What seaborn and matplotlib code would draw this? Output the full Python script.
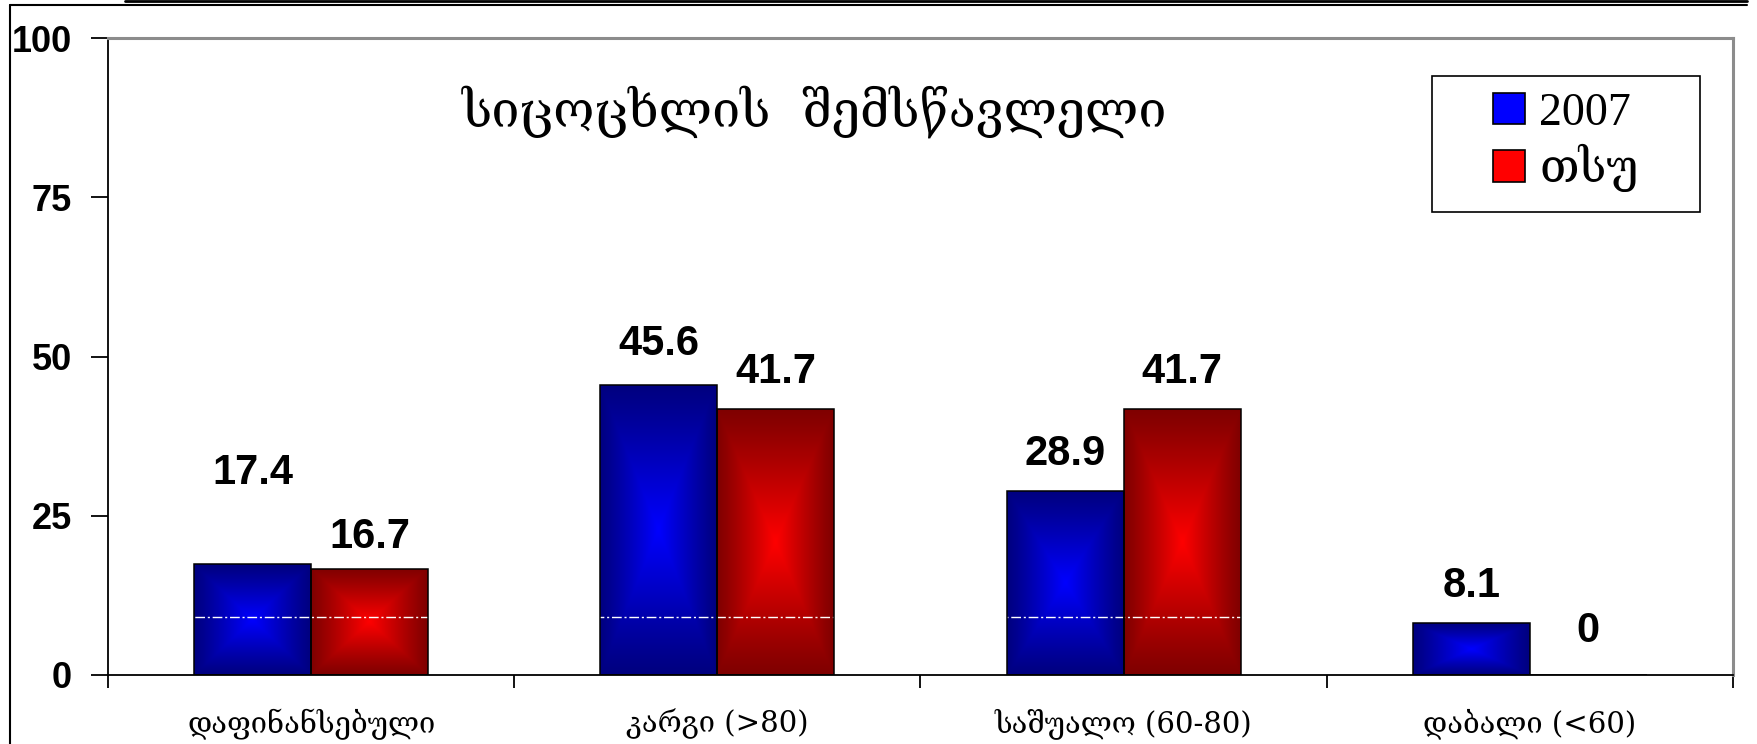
import numpy as np
import pandas as pd
import matplotlib
matplotlib.use("Agg")
import matplotlib.pyplot as plt
import seaborn as sns
from matplotlib.patches import Patch, Rectangle
from matplotlib.lines import Line2D

# data
categories = ["დაფინანსებული", "კარგი (>80)", "საშუალო (60-80)", "დაბალი (<60)"]
series_names = ["2007", "თსუ"]
values_2007 = [17.4, 45.6, 28.9, 8.1]
values_tsu = [16.7, 41.7, 41.7, 0]
title_text = "სიცოცხლის  შემსწავლელი"
y_ticks = [0, 25, 50, 75, 100]

df = pd.DataFrame({
    "cat": categories * 2,
    "series": [series_names[0]] * 4 + [series_names[1]] * 4,
    "val": values_2007 + values_tsu,
})

sns.set_theme(style="white")
plt.rcParams["font.family"] = ["Liberation Sans", "DejaVu Sans"]
plt.rcParams["text.color"] = "black"
plt.rcParams["xtick.color"] = "black"
plt.rcParams["ytick.color"] = "black"

base_colors = {"2007": (0.0, 0.0, 1.0), "თსუ": (1.0, 0.0, 0.0)}
geo_font = ["DejaVu Serif", "DejaVu Sans"]

fig = plt.figure(figsize=(17.58, 7.44), dpi=100)
ax = fig.add_axes([108 / 1758, 69 / 744, 1625 / 1758, 637 / 744])

sns.barplot(data=df, x="cat", y="val", hue="series", order=categories,
            hue_order=series_names, palette=base_colors, width=0.576,
            edgecolor="black", linewidth=1.1, saturation=1, legend=False, ax=ax)

# rectangular "from centre" gradient inside every bar
n = 120
u = np.linspace(-1, 1, n)
U, V = np.meshgrid(u, u)
t = np.maximum(np.abs(U), np.abs(V))
shade = 0.5 + 0.5 * (1 - t) ** 1.1

for cont, name in zip(ax.containers, series_names):
    rgb = np.array(base_colors[name])
    for bar in cont:
        bar.set_facecolor("none")
        bar.set_zorder(3)
        h = bar.get_height()
        if h <= 0:
            continue
        x0 = bar.get_x()
        img = shade[:, :, None] * rgb[None, None, :]
        im = ax.imshow(img, extent=[x0, x0 + bar.get_width(), 0, h],
                       origin="lower", aspect="auto", zorder=2, interpolation="bilinear")
        im.set_clip_path(bar)

# white dash-dot line seen across the bars
ax.axhline(9.1, color="white", lw=1.0, ls=(0, (7, 2, 1.5, 2)), zorder=2.5)

# value labels
nudge = {("2007", 0): 58, ("თსუ", 0): 15, ("2007", 1): 21, ("თსუ", 3): 24}
for cont, name in zip(ax.containers, series_names):
    vals = values_2007 if name == "2007" else values_tsu
    for i, bar in enumerate(cont):
        off = nudge.get((name, i), 19)
        ax.annotate(f"{vals[i]:g}", xy=(bar.get_x() + bar.get_width() / 2, bar.get_height()),
                    xytext=(0, off), textcoords="offset points", ha="center", va="baseline",
                    fontsize=30, fontweight="bold", color="black", zorder=5)

ax.set_xlim(-0.5, len(categories) - 0.5)
ax.set_ylim(0, 100)
ax.set_yticks(y_ticks)
ax.set_yticklabels([str(v) for v in y_ticks], fontsize=26, fontweight="bold", color="black")
ax.tick_params(axis="y", direction="out", length=12, width=1.3, color="black", pad=14, left=True)

ax.set_xticks(range(len(categories)))
ax.set_xticklabels(categories, fontsize=21, family=geo_font, color="black")
ax.set_xticks(np.arange(-0.5, len(categories)), minor=True)
ax.tick_params(axis="x", which="major", length=0, pad=24)
ax.tick_params(axis="x", which="minor", direction="out", length=9, width=1.3, color="black", bottom=True)
ax.set_xlabel("")
ax.set_ylabel("")

for s in ["left", "bottom"]:
    ax.spines[s].set_color("black")
    ax.spines[s].set_linewidth(1.3)
for s in ["top", "right"]:
    ax.spines[s].set_color("#8c8c8c")
    ax.spines[s].set_linewidth(2.2)

# title inside plot area
ax.text(0.435, 0.884, title_text, transform=ax.transAxes, ha="center", va="center",
        fontsize=36, family=geo_font, color="black")

# legend
handles = [Patch(facecolor=base_colors[nm], edgecolor="black", linewidth=1.2) for nm in series_names]
leg = ax.legend(handles, series_names, loc="center", bbox_to_anchor=(0.8972, 0.8366),
                frameon=False, prop={"family": ["Liberation Serif", "DejaVu Serif"], "size": 33},
                handlelength=0.68, handleheight=0.68, handletextpad=0.32, labelspacing=0.2,
                borderaxespad=0)
ax.add_patch(Rectangle((1324 / 1625, (668 - 69 - 136) / 637), 268 / 1625, 136 / 637,
                       transform=ax.transAxes, fill=False, edgecolor="black", lw=1.2,
                       zorder=6, clip_on=False))

# outer frame lines
fig.add_artist(Line2D([10 / 1758, 10 / 1758], [0, 1 - 5 / 744], color="black", lw=1.5))
fig.add_artist(Line2D([10 / 1758, 1747 / 1758], [1 - 5 / 744, 1 - 5 / 744], color="black", lw=1.5))
fig.add_artist(Line2D([125 / 1758, 1747 / 1758], [1 - 1 / 744, 1 - 1 / 744], color="black", lw=2))

fig.savefig("out.png", dpi=100)
